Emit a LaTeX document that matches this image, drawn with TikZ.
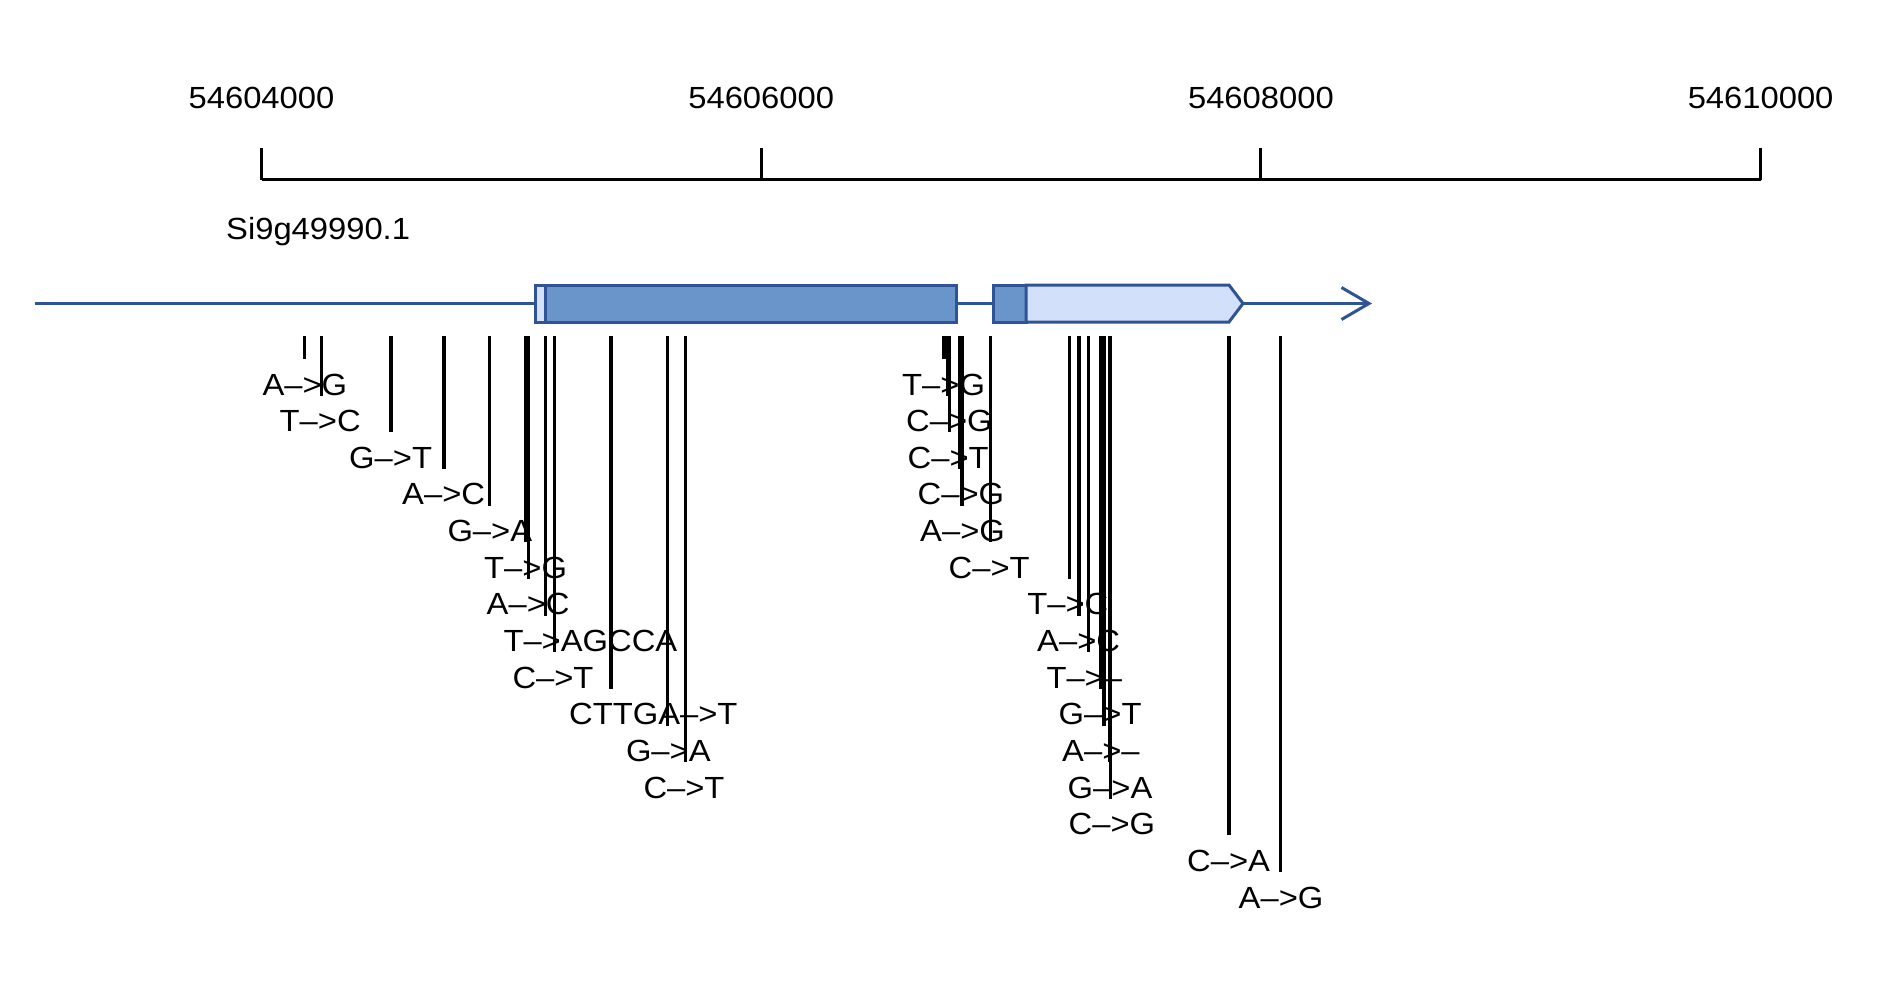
\documentclass[tikz,border=0pt]{standalone}
\usepackage{fontspec}
\setmainfont{Liberation Sans}[FakeStretch=1.07]
\definecolor{geneedge}{RGB}{47,84,150}
\definecolor{genecds}{RGB}{106,149,203}
\definecolor{geneutr}{RGB}{211,224,250}
\newcommand\lblfont{\fontsize{30.6}{36}\selectfont}
\begin{document}
\begin{tikzpicture}[x=1pt,y=-1pt,
  axisline/.style={line width=3pt, black},
  varline/.style={line width=3.2pt, black},
  lbl/.style={anchor=base west, inner sep=0pt, font=\lblfont},
  ticklbl/.style={anchor=base, inner sep=0pt, font=\lblfont},
  genebox/.style={draw=geneedge, line width=3pt, line join=miter},
  backbone/.style={draw=geneedge, line width=3pt}]
\useasboundingbox[fill=white] (0,0) rectangle (1878,987);

% axis
\foreach \n/\x/\t in {t0/261.5/54604000, t1/761.2/54606000, t2/1260.9/54608000, t3/1760.6/54610000}{
  \coordinate (\n-top) at (\x,148);
  \coordinate (\n-bot) at (\x,180);
  \node[ticklbl] (\n) at (\x,108.3) {\t};
  \draw[axisline] (\n-top) -- (\n-bot);
}
\draw[axisline] (t0-bot) -- (t3-bot);

% gene name
\node[lbl] (gname) at (226,239) {Si9g49990.1};

% gene model
\coordinate (bbstart) at (35,303.5);
\coordinate (bbend) at (1369,303.5);
\coordinate (arrU) at (1341.5,287.5);
\coordinate (arrD) at (1341.5,319.5);
\draw[backbone] (bbstart) -- (bbend);
\draw[backbone, line join=miter] (arrU) -- (bbend) -- (arrD);
\draw[genebox, fill=genecds] (545,285) rectangle (956,322);
\draw[genebox, fill=geneutr] (535,285) rectangle (545,322);
\draw[genebox, fill=genecds] (993.5,285) rectangle (1026,322);
\draw[genebox, fill=geneutr] (1026,285) -- (1229,285) -- (1243,303.5) -- (1229,322) -- (1026,322) -- cycle;

% variants
\foreach \n/\x/\r/\t in {
  a1/304.3/1/A-->G, a2/321.5/2/T-->C, a3/391/3/G-->T, a4/444/4/A-->C,
  a5/489.3/5/G-->A, a6/526/6/T-->G, a7/528.5/7/A-->C, a8/545.3/8/T-->AGCCA,
  a9/554.3/9/C-->T, a10/611/10/CTTGA-->T, a11/667.8/11/G-->A, a12/685.3/12/C-->T,
  b1/944/1/T-->G, b2/948/2/C-->G, b3/949.5/3/C-->T, b4/959.5/4/C-->G,
  b5/962/5/A-->G, b6/990.5/6/C-->T,
  c1/1069.2/7/T-->C, c2/1079/8/A-->C, c3/1088.3/9/T-->--, c4/1100.5/10/G-->T,
  c5/1104/11/A-->--, c6/1109.5/12/G-->A, c7/1110.5/13/C-->G,
  d1/1229/14/C-->A, d2/1280.5/15/A-->G}{
  \pgfmathsetmacro\yb{395+36.65*(\r-1)}
  \pgfmathsetmacro\ye{\yb-36}
  \coordinate (\n-top) at (\x,336);
  \coordinate (\n-end) at (\x,\ye);
  \node[lbl] (\n) at (\x-42,\yb) {\t};
  \draw[varline] (\n-top) -- (\n-end);
}
\end{tikzpicture}
\end{document}
